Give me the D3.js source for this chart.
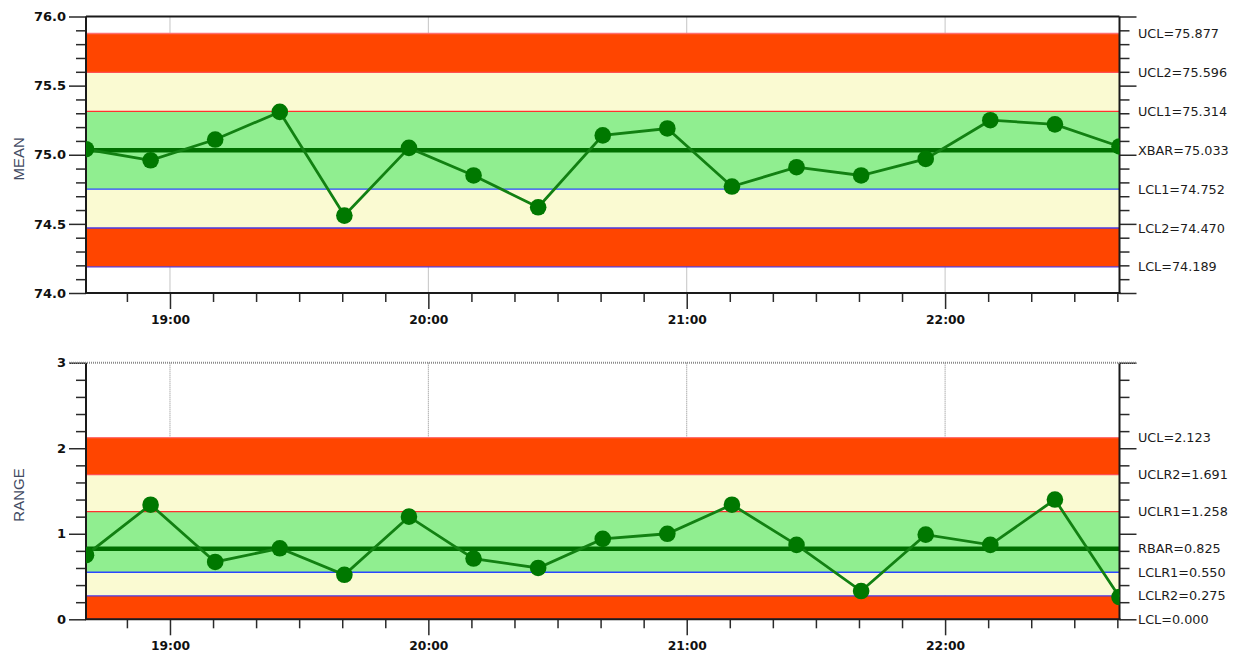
<!DOCTYPE html>
<html><head><meta charset="utf-8">
<script src="https://cdn.jsdelivr.net/npm/d3@7"></script>
<style>body{margin:0;background:#fff;} svg{display:block;}</style>
</head><body>
<svg id="c" width="1237" height="655"></svg>
<script>
// ---- data ----
const times = ["18:40:30","18:55:30","19:10:30","19:25:30","19:40:30","19:55:30","20:10:30","20:25:30","20:40:30","20:55:30","21:10:30","21:25:30","21:40:30","21:55:30","22:10:30","22:25:30","22:40:30"];
const meanValues = [75.04,74.96,75.11,75.31,74.56,75.05,74.85,74.62,75.14,75.19,74.77,74.91,74.85,74.97,75.25,75.22,75.06];
const rangeValues = [0.75,1.34,0.67,0.83,0.52,1.20,0.71,0.60,0.94,1.00,1.34,0.87,0.33,0.99,0.87,1.40,0.26];
const meanLimitNames = ["UCL","UCL2","UCL1","XBAR","LCL1","LCL2","LCL"];
const meanLimitValues = [75.877,75.596,75.314,75.033,74.752,74.470,74.189];
const rangeLimitNames = ["UCL","UCLR2","UCLR1","RBAR","LCLR1","LCLR2","LCL"];
const rangeLimitValues = [2.123,1.691,1.258,0.825,0.550,0.275,0.000];
const meanDomain = [74, 76];
const rangeDomain = [0, 3];

// ---- layout ----
const svg = d3.select("#c");
const L = 86, R = 1119.5;
const parse = d3.timeParse("%Y-%m-%d %H:%M:%S");
const dates = times.map(t => parse("2024-01-01 " + t));
const x = d3.scaleTime().domain(d3.extent(dates)).range([L, R]);
const font = "DejaVu Sans";
const bandColors = ["#FF4500","#FAFAD2","#90EE90","#FAFAD2","#FF4500"];
const limitColors = ["#ff7070","#ff5050","#ff3030","#006e00","#2a46ff","#4a38e0","#5a3ad0"];

function drawChart(cfg) {
  const {top, bottom, domain, values, limNames, limVals, major, minor, fmt, title, id, dottedTop} = cfg;
  const y = d3.scaleLinear().domain(domain).range([bottom, top]);
  const g = svg.append("g");
  const clipId = "clip" + id;
  svg.append("clipPath").attr("id", clipId).append("rect")
    .attr("x", L).attr("y", top).attr("width", R - L).attr("height", bottom - top);

  // vertical gridlines at hours
  const hours = x.ticks(d3.timeHour.every(1));
  g.selectAll(".vg").data(hours).join("line")
    .attr("x1", d => x(d)).attr("x2", d => x(d)).attr("y1", top).attr("y2", bottom)
    .attr("stroke", "#8a8a8a").attr("stroke-width", 1).attr("stroke-dasharray", "1,1");

  // bands (limits sorted high->low)
  const lv = limVals; // UCL, UCL2, UCL1, C, LCL1, LCL2, LCL
  const bands = [[lv[6], lv[5]], [lv[5], lv[4]], [lv[4], lv[2]], [lv[2], lv[1]], [lv[1], lv[0]]];
  g.selectAll(".band").data(bands).join("rect")
    .attr("x", L).attr("width", R - L)
    .attr("y", d => y(d[1])).attr("height", d => y(d[0]) - y(d[1]))
    .attr("fill", (d, i) => bandColors[i]);

  // limit lines
  g.selectAll(".lim").data(lv).join("line")
    .attr("x1", L).attr("x2", R).attr("y1", d => y(d)).attr("y2", d => y(d))
    .attr("stroke", (d, i) => limitColors[i])
    .attr("stroke-width", (d, i) => i === 3 ? 4.5 : 1.3);

  // axes ticks
  const majors = d3.range(domain[0], domain[1] + minor / 2, major);
  const minors = d3.range(domain[0], domain[1] + minor / 2, minor).filter(v => Math.abs(v / major - Math.round(v / major)) > 1e-6);
  const leftMaj = d3.axisLeft(y).tickValues(majors).tickSize(17).tickPadding(3).tickFormat(d3.format(fmt));
  const leftMin = d3.axisLeft(y).tickValues(minors).tickSize(10).tickFormat("");
  const rightMaj = d3.axisRight(y).tickValues(majors).tickSize(17).tickFormat("");
  const rightMin = d3.axisRight(y).tickValues(minors).tickSize(10).tickFormat("");
  const styleAxis = sel => {
    sel.select(".domain").remove();
    sel.selectAll(".tick line").attr("stroke", "#2a2a2a").attr("stroke-width", 1.5);
    sel.selectAll(".tick text").attr("font-family", font).attr("font-weight", "bold")
      .attr("font-size", 13).attr("fill", "#111");
  };
  g.append("g").attr("transform", `translate(${L},0)`).call(leftMaj).call(styleAxis);
  g.append("g").attr("transform", `translate(${L},0)`).call(leftMin).call(styleAxis);
  g.append("g").attr("transform", `translate(${R},0)`).call(rightMaj).call(styleAxis);
  g.append("g").attr("transform", `translate(${R},0)`).call(rightMin).call(styleAxis);

  const xMaj = d3.axisBottom(x).tickValues(hours).tickSize(16).tickPadding(6).tickFormat(d3.timeFormat("%H:%M"));
  const xMinor = x.ticks(d3.timeMinute.every(10)).filter(d => d.getMinutes() !== 0);
  const xMin = d3.axisBottom(x).tickValues(xMinor).tickSize(9).tickFormat("");
  g.append("g").attr("transform", `translate(0,${bottom})`).call(xMaj).call(styleAxis)
    .selectAll(".tick text").attr("font-size", 12.3);
  g.append("g").attr("transform", `translate(0,${bottom})`).call(xMin).call(styleAxis);

  // frame
  g.append("line").attr("x1", L).attr("x2", L).attr("y1", top).attr("y2", bottom).attr("stroke", "#1a1a1a").attr("stroke-width", 2);
  g.append("line").attr("x1", R).attr("x2", R).attr("y1", top).attr("y2", bottom).attr("stroke", "#1a1a1a").attr("stroke-width", 2);
  g.append("line").attr("x1", L - 1).attr("x2", R + 1).attr("y1", bottom).attr("y2", bottom).attr("stroke", "#1a1a1a").attr("stroke-width", 2);
  if (dottedTop) {
    g.append("line").attr("x1", L - 17).attr("x2", R + 17).attr("y1", top).attr("y2", top)
      .attr("stroke", "#8a8a8a").attr("stroke-width", 2).attr("stroke-dasharray", "1,1");
  } else {
    g.append("line").attr("x1", L).attr("x2", R).attr("y1", top).attr("y2", top).attr("stroke", "#1a1a1a").attr("stroke-width", 2);
  }

  // data
  const pg = g.append("g").attr("clip-path", `url(#${clipId})`);
  const line = d3.line().x((d, i) => x(dates[i])).y(d => y(d));
  pg.append("path").datum(values).attr("d", line).attr("fill", "none")
    .attr("stroke", "#128012").attr("stroke-width", 2.8);
  pg.selectAll("circle").data(values).join("circle")
    .attr("cx", (d, i) => x(dates[i])).attr("cy", d => y(d)).attr("r", 8.3)
    .attr("fill", "#007800");

  // right limit labels
  g.selectAll(".ll").data(lv).join("text")
    .attr("x", 1138).attr("y", d => y(d)).attr("dy", "0.35em")
    .attr("font-family", font).attr("font-size", 12.8).attr("fill", "#1c1c1c")
    .text((d, i) => limNames[i] + "=" + d3.format(".3f")(d));

  // title
  const cy = (top + bottom) / 2 + 4;
  g.append("text").attr("transform", `translate(24,${cy}) rotate(-90)`)
    .attr("text-anchor", "middle").attr("font-family", "Liberation Sans").attr("font-size", 15)
    .attr("fill", "#424a62").text(title);
}

drawChart({top: 16.5, bottom: 293, domain: meanDomain, values: meanValues, limNames: meanLimitNames,
  limVals: meanLimitValues, major: 0.5, minor: 0.1, fmt: ".1f", title: "MEAN", id: "a", dottedTop: false});
drawChart({top: 362.7, bottom: 619.3, domain: rangeDomain, values: rangeValues, limNames: rangeLimitNames,
  limVals: rangeLimitValues, major: 1, minor: 0.2, fmt: "d", title: "RANGE", id: "b", dottedTop: true});
</script>
</body></html>
